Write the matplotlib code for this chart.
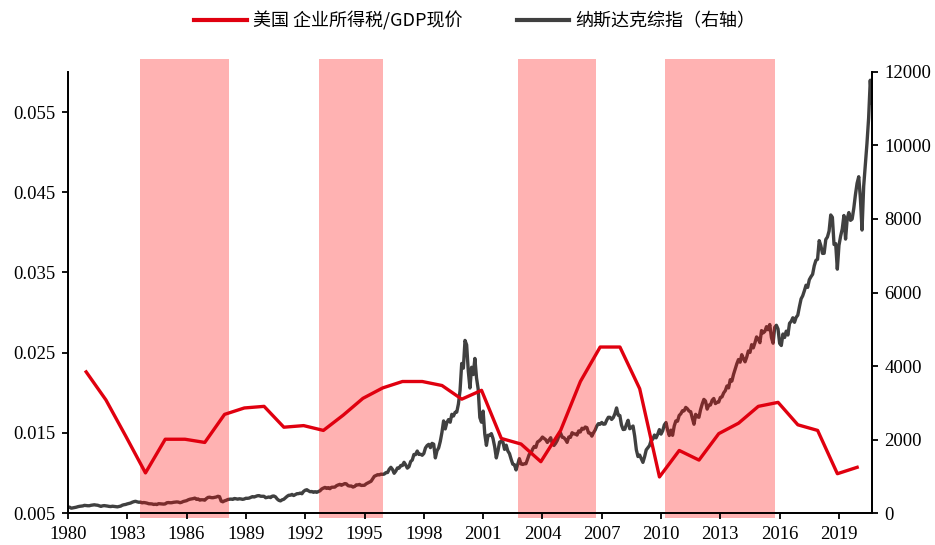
import numpy as np
import matplotlib.pyplot as plt
from matplotlib.lines import Line2D

# US corporate income tax / nominal GDP, annual
tax_years = np.arange(1980, 2020)
tax_ratio = [0.0226, 0.0191, 0.0146, 0.0100, 0.0142, 0.0142, 0.0138, 0.0173,
             0.0181, 0.0183, 0.0157, 0.0159, 0.0153, 0.0172, 0.0193, 0.0206,
             0.0214, 0.0214, 0.0209, 0.0192, 0.0203, 0.0143, 0.0136, 0.0114,
             0.0153, 0.0214, 0.0257, 0.0257, 0.0205, 0.0095, 0.0128, 0.0116,
             0.0149, 0.0162, 0.0183, 0.0188, 0.0160, 0.0153, 0.0099, 0.0107]

# Nasdaq composite, monthly closes, one row per year (1980 - 2020.09)
nasdaq_rows = [
    [161.8, 158.0, 131.0, 139.9, 150.5, 157.8, 171.8, 181.5, 187.8, 192.8, 208.2, 202.3],
    [197.8, 198.0, 210.2, 216.7, 223.5, 215.8, 211.6, 195.8, 180.0, 195.2, 201.4, 195.8],
    [188.4, 179.4, 175.7, 184.7, 178.5, 171.3, 167.4, 177.7, 187.7, 212.6, 225.3, 232.4],
    [248.4, 260.7, 270.8, 293.1, 308.7, 318.7, 303.9, 292.4, 296.7, 276.4, 285.7, 278.6],
    [268.4, 252.6, 250.8, 247.4, 232.8, 239.7, 230.0, 254.6, 249.9, 247.0, 242.5, 247.4],
    [278.7, 284.2, 279.2, 280.6, 290.8, 296.2, 301.3, 297.7, 280.3, 292.5, 313.9, 324.9],
    [335.8, 359.5, 374.7, 383.2, 391.9, 405.5, 371.4, 382.9, 350.7, 360.8, 359.6, 349.0],
    [392.1, 424.0, 430.1, 417.8, 416.5, 424.7, 434.9, 454.9, 444.3, 323.3, 305.2, 330.5],
    [344.7, 366.6, 374.6, 379.2, 370.3, 394.7, 387.3, 376.6, 387.7, 382.5, 371.5, 381.4],
    [401.3, 399.7, 406.7, 427.5, 446.2, 435.3, 453.8, 469.3, 472.9, 455.6, 456.1, 454.8],
    [415.8, 425.8, 435.5, 420.1, 458.9, 462.3, 438.2, 381.2, 344.5, 329.8, 359.1, 373.8],
    [414.2, 453.1, 482.3, 484.7, 506.1, 475.9, 502.0, 525.7, 526.9, 542.9, 523.9, 586.3],
    [620.2, 633.5, 603.8, 578.7, 585.3, 563.6, 580.8, 563.1, 583.3, 605.2, 652.7, 677.0],
    [696.3, 670.8, 690.1, 661.4, 700.5, 704.0, 704.7, 742.8, 763.0, 779.3, 754.4, 776.8],
    [800.5, 793.0, 743.5, 733.8, 735.2, 706.0, 722.2, 765.6, 764.3, 777.5, 750.3, 752.0],
    [755.2, 793.7, 817.2, 843.9, 864.6, 933.5, 1001.2, 1020.1, 1043.5, 1036.1, 1059.2, 1052.1],
    [1059.8, 1100.1, 1101.4, 1190.5, 1243.4, 1185.0, 1080.6, 1141.5, 1226.9, 1221.5, 1292.6, 1291.0],
    [1379.9, 1309.0, 1221.7, 1260.8, 1400.3, 1442.1, 1593.8, 1587.3, 1685.7, 1593.6, 1600.6, 1570.4],
    [1619.4, 1770.5, 1835.7, 1868.4, 1778.9, 1894.7, 1872.4, 1499.3, 1693.8, 1771.4, 1949.5, 2192.7],
    [2505.9, 2288.0, 2461.4, 2542.9, 2470.5, 2686.1, 2638.5, 2739.4, 2746.2, 2966.4, 3336.2, 4069.3],
    [3940.4, 4696.7, 4572.8, 3860.7, 3400.9, 3966.1, 3767.0, 4206.4, 3672.8, 3369.6, 2597.9, 2470.5],
    [2772.7, 2151.8, 1840.3, 2116.2, 2110.5, 2160.5, 2027.1, 1805.4, 1498.8, 1690.2, 1930.6, 1950.4],
    [1934.0, 1731.5, 1845.4, 1688.2, 1615.7, 1463.2, 1328.3, 1314.9, 1172.1, 1329.8, 1478.8, 1335.5],
    [1320.9, 1337.5, 1341.2, 1464.3, 1595.9, 1622.8, 1735.0, 1810.5, 1786.9, 1932.2, 1960.3, 2003.4],
    [2066.2, 2029.8, 1994.2, 1920.2, 1986.7, 2047.8, 1887.4, 1838.1, 1896.8, 1975.0, 2096.8, 2175.4],
    [2062.4, 2051.7, 1999.2, 1921.7, 2068.2, 2057.0, 2184.8, 2152.1, 2151.7, 2120.3, 2232.8, 2205.3],
    [2305.8, 2281.4, 2339.8, 2322.6, 2178.9, 2172.1, 2091.5, 2183.8, 2258.4, 2366.7, 2431.8, 2415.3],
    [2463.9, 2416.2, 2421.6, 2525.1, 2604.5, 2603.2, 2546.3, 2596.4, 2701.5, 2859.1, 2661.0, 2652.3],
    [2389.9, 2271.5, 2279.1, 2412.8, 2522.7, 2293.0, 2325.6, 2367.5, 2091.9, 1721.0, 1535.6, 1577.0],
    [1476.4, 1377.8, 1528.6, 1717.3, 1774.3, 1835.0, 1978.5, 2009.1, 2122.4, 2045.1, 2144.6, 2269.2],
    [2147.4, 2238.3, 2398.0, 2461.2, 2257.0, 2109.2, 2254.7, 2114.0, 2368.6, 2507.4, 2498.2, 2652.9],
    [2700.1, 2782.3, 2781.1, 2873.5, 2835.3, 2773.5, 2756.4, 2579.5, 2415.4, 2684.4, 2620.3, 2605.2],
    [2813.8, 2966.9, 3091.6, 3046.4, 2827.3, 2935.1, 2939.5, 3067.0, 3116.2, 2977.2, 3010.2, 3019.5],
    [3142.1, 3160.2, 3267.5, 3328.8, 3455.9, 3403.3, 3626.4, 3589.9, 3771.5, 3919.7, 4059.9, 4176.6],
    [4103.9, 4308.1, 4199.0, 4114.6, 4242.6, 4408.2, 4369.8, 4580.3, 4493.4, 4630.7, 4791.6, 4736.1],
    [4635.2, 4963.5, 4900.9, 4941.4, 5070.0, 4986.9, 5128.3, 4776.5, 4620.2, 5053.8, 5108.7, 5007.4],
    [4614.0, 4558.0, 4869.9, 4775.4, 4948.1, 4843.0, 5162.1, 5213.2, 5312.0, 5189.1, 5323.7, 5383.1],
    [5614.8, 5825.4, 5911.7, 6047.6, 6198.5, 6140.4, 6348.1, 6428.7, 6496.0, 6727.7, 6874.0, 6903.4],
    [7411.5, 7273.0, 7063.4, 7066.3, 7442.1, 7510.3, 7671.8, 8109.5, 8046.4, 7305.9, 7330.5, 6635.3],
    [7281.7, 7532.5, 7729.3, 8095.4, 7453.2, 8006.2, 8175.4, 7962.9, 7999.3, 8292.4, 8665.5, 8972.6],
    [9150.9, 8567.4, 7700.1, 8889.6, 9489.9, 10058.8, 10745.3, 11775.5, 11167.5],
]

# tax-cut periods (shaded)
span_start = [1983.64, 1992.70, 2002.76, 2010.20]
span_end = [1988.14, 1995.93, 2006.71, 2015.76]

left_ticks = [0.005, 0.015, 0.025, 0.035, 0.045, 0.055]
right_ticks = [0, 2000, 4000, 6000, 8000, 10000, 12000]
year_ticks = list(range(1980, 2020, 3))

RED = '#E0000F'
DARK = '#404040'

nasdaq_x = []
nasdaq_y = []
for i, row in enumerate(nasdaq_rows):
    for m, v in enumerate(row):
        nasdaq_x.append(1980 + i + m / 12)
        nasdaq_y.append(v)

serif = 'Liberation Serif'
cjk = ['Noto Sans CJK SC', 'DejaVu Sans']

fig = plt.figure(figsize=(9.35, 5.45), dpi=100)
ax = fig.add_axes([0.0727, 0.0587, 0.8599, 0.8092])
ax2 = ax.twinx()

# nasdaq sits behind the shading, tax ratio on top
ax.set_zorder(ax2.get_zorder() + 1)
ax.patch.set_visible(False)

ax2.plot(nasdaq_x, nasdaq_y, color=DARK, lw=2.4)
for s, e in zip(span_start, span_end):
    ax.axvspan(s, e, ymin=-0.012, ymax=1.03, color='#FF0000', alpha=0.3,
               lw=0, clip_on=False, zorder=1)
ax.plot(tax_years + 0.92, tax_ratio, color=RED, lw=2.4, zorder=3)

ax.set_xlim(1980, 2020.67)
ax.set_ylim(0.005, 0.060)
ax2.set_ylim(0, 12000)

ax.set_xticks(year_ticks)
ax.set_xticklabels([str(y) for y in year_ticks])
ax.set_yticks(left_ticks)
ax.set_yticklabels(['%.3f' % v for v in left_ticks])
ax2.set_yticks(right_ticks)
ax2.set_yticklabels([str(v) for v in right_ticks])

for a in (ax, ax2):
    a.spines['top'].set_visible(False)
    for sp in a.spines.values():
        sp.set_linewidth(1.3)
    a.tick_params(direction='out', length=4, width=1.3, labelsize=13.5, pad=5)
    for lab in a.get_xticklabels() + a.get_yticklabels():
        lab.set_fontfamily(serif)

handles = [Line2D([], [], color=RED, lw=3),
           Line2D([], [], color=DARK, lw=3)]
labels = ['美国 企业所得税/GDP现价', '纳斯达克综指（右轴）']
fig.legend(handles, labels, loc='center', bbox_to_anchor=(0.508, 0.962),
           ncol=2, frameon=False, prop={'family': cjk, 'size': 13},
           handlelength=2.9, handletextpad=0.35, columnspacing=3.0)

fig.savefig('out.png', dpi=100)
